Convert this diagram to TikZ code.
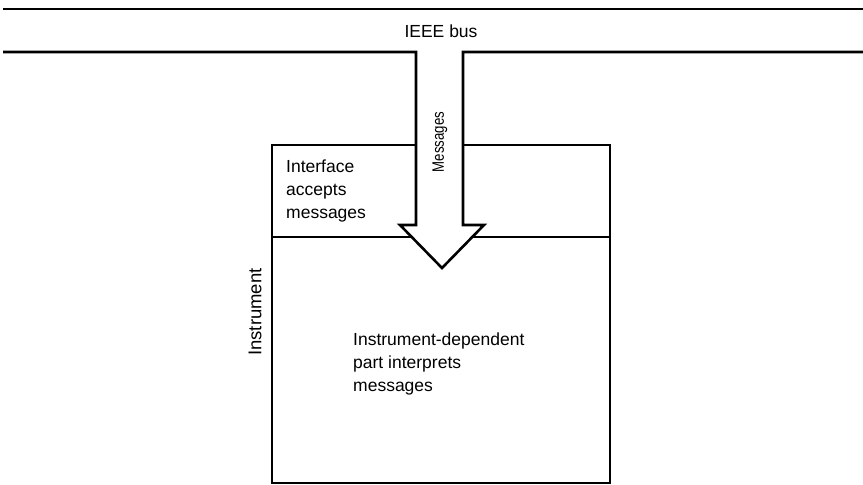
\documentclass[tikz,border=0pt]{standalone}
\usepackage{fontspec}
\setmainfont{Liberation Sans}
\newfontfamily\narrowsans[FakeStretch=0.8]{Liberation Sans}
\begin{document}
\begin{tikzpicture}[x=1pt,y=-1pt,
  wire/.style={line width=2.6pt,line join=miter},
  label/.style={font=\fontsize{17.5}{22.8}\selectfont,inner sep=0pt},
  block/.style={label,align=left,anchor=north west}]
\useasboundingbox (0,0) rectangle (863,485);
% instrument outline and the interface / instrument-dependent split
\draw[wire] (272,145) rectangle (610,483);
\draw[wire] (272,237) -- (610,237);
% bus: top line, lower line turning into the message arrow
\draw[wire] (3,9) -- (863,9);
\draw[wire,fill=white] (3,52) -- (416,52) -- (416,225) -- (400,225) -- (442,268)
  -- (484,225) -- (463,225) -- (463,52) -- (863,52);
% clean the box top inside the arrow stem
\fill[white] (417.6,140) rectangle (461.4,150);
% texts
\node[label] (bus) at (441,31) {IEEE bus};
\node[label,font=\narrowsans\fontsize{16.5}{19}\selectfont,rotate=90] (msg) at (440,142) {Messages};
\node[label,font=\fontsize{18.5}{22}\selectfont,rotate=90] (instr) at (255,312) {Instrument};
\node[block] (iface) at (286,160) {Interface\\accepts\\messages};
\node[block] (dep) at (353,333) {Instrument-dependent\\part interprets\\messages};
\end{tikzpicture}
\end{document}
